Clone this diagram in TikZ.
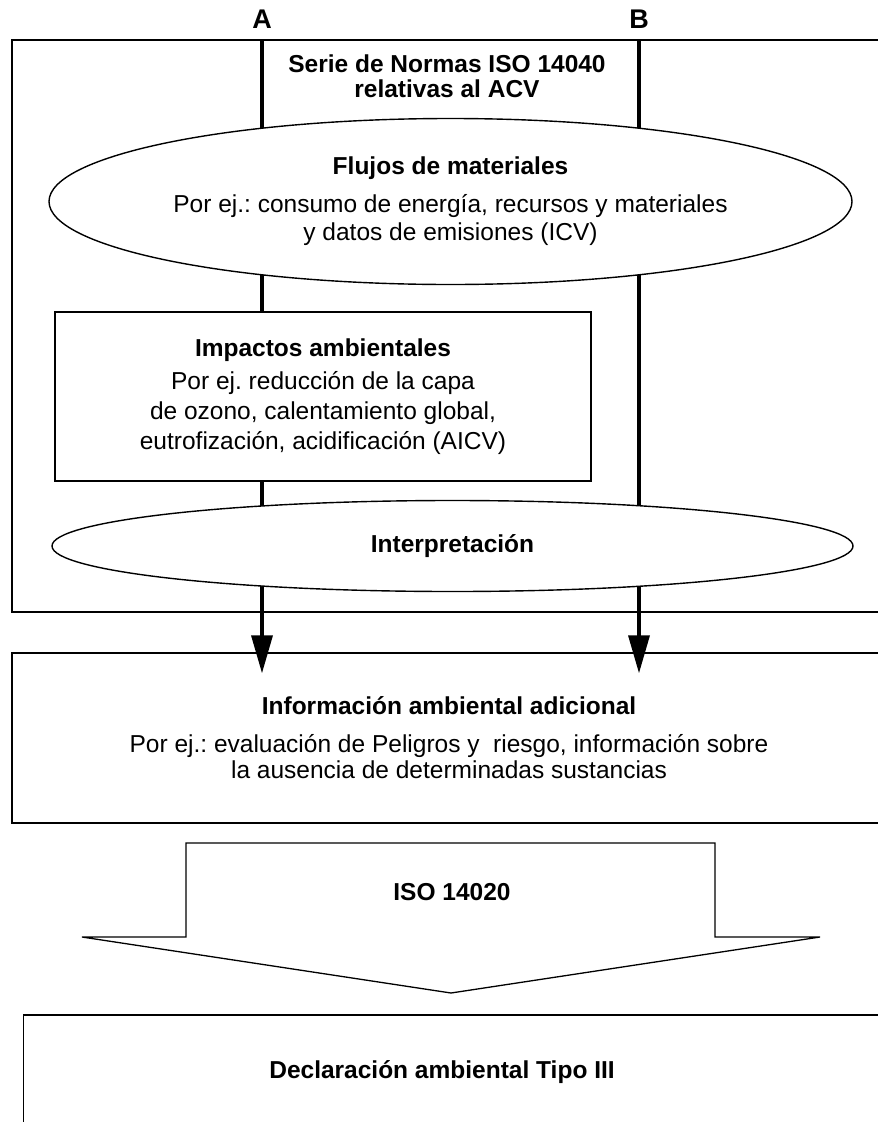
\documentclass[tikz,border=0pt]{standalone}
\usepackage{fontspec}
\setmainfont{Liberation Sans}
\usepackage{tikz}
\usetikzlibrary{shapes.geometric, arrows.meta, positioning, calc, backgrounds}
\frenchspacing

\begin{document}
\begin{tikzpicture}[x=1pt, y=-1pt,
  frame/.style={draw=black, line width=1.6pt},
  phase/.style={ellipse, draw=black, fill=white, line width=1.4pt, inner sep=0pt,
    font=\fontsize{24.5}{28}\selectfont, align=center},
  infobox/.style={rectangle, draw=black, line width=1.4pt, inner sep=0pt,
    font=\fontsize{24.5}{28}\selectfont, align=center},
  tag/.style={font=\fontsize{27}{30}\selectfont\bfseries, anchor=base},
  txt/.style={font=\fontsize{24.5}{28}\selectfont\bfseries, align=center},
  flow/.style={line width=3.5pt, black},
  arrow/.style={flow, -{Triangle[length=38pt, width=21pt]}}
]
  \useasboundingbox (0,0) rectangle (878,1122);

  % ISO 14040 frame
  \draw[frame] (12,40) rectangle (890,612);
  \node[tag] (labA) at (262,28) {A};
  \node[tag] (labB) at (639,28) {B};
  \coordinate (topA) at (262,40);
  \coordinate (topB) at (639,40);
  \node[txt] (serie) at (447,76.5) {Serie de Normas ISO 14040\\[-3pt]relativas al ACV};

  \node[phase, minimum width=803pt, minimum height=166pt] (flujos) at (450.5,201.5)
    {\textbf{Flujos de materiales}\\[10pt]
     Por ej.: consumo de energía, recursos y materiales\\
     y datos de emisiones (ICV)};
  \node[infobox, fill=white, minimum width=536pt, minimum height=169pt,
    font=\fontsize{24.5}{30}\selectfont] (impactos) at (323,396.5)
    {\textbf{Impactos ambientales}\\[3pt]
     Por ej. reducción de la capa\\
     de ozono, calentamiento global,\\
     eutrofización, acidificación (AICV)};
  \node[phase, minimum width=801pt, minimum height=91pt] (interp) at (452.5,546)
    {\textbf{Interpretación}};

  % additional information
  \node[infobox, minimum width=874pt, minimum height=170pt,
    font=\fontsize{24.5}{26}\selectfont] (info) at (449,738)
    {\textbf{Información ambiental adicional}\\[12pt]
     Por ej.: evaluación de Peligros y~ riesgo, información sobre\\
     la ausencia de determinadas sustancias};

  \begin{scope}[on background layer]
    \draw[flow] (topA) -- (impactos.north -| topA);
    \draw[flow] (impactos.south -| topA) -- (interp.center -| topA);
    \draw[flow] (topB) -- (interp.center -| topB);
    \draw[arrow] (interp.center -| topA) -- ($(info.north -| topA)+(0,21)$);
    \draw[arrow] (interp.center -| topB) -- ($(info.north -| topB)+(0,21)$);
  \end{scope}

  % ISO 14020 block arrow
  \draw[frame, line width=1.3pt] (186,843) -- (715,843) -- (715,937) -- (820,937)
    -- (451,993) -- (82,937) -- (186,937) -- cycle;
  \node[txt, anchor=base] (iso) at (452,900) {ISO 14020};

  % type III declaration
  \draw[frame] (23.5,1015) rectangle (890,1140);
  \node[txt, anchor=base] (decl) at (442,1078) {Declaración ambiental Tipo III};
\end{tikzpicture}
\end{document}
